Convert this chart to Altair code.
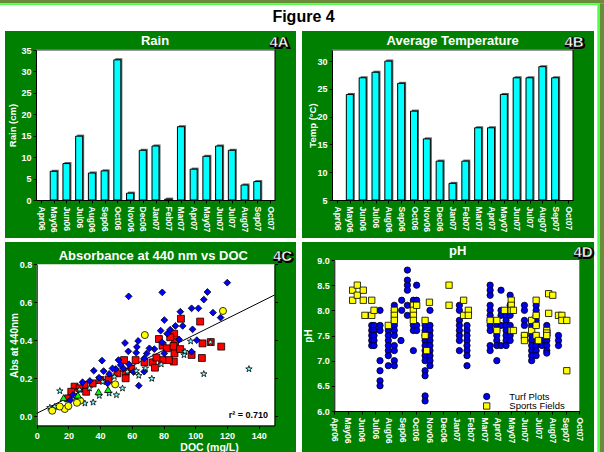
import json
import altair as alt
import pandas as pd

FONT = "Liberation Sans"
PANEL = "#008000"
CYAN = "#00ffff"
OLIVE = "#6b8a3a"
LIME = "#4cff4c"
W, H = 604, 452

# ---- monthly series (x index 0 = Apr06) ----
MONTHS = ["Apr06", "May06", "Jun06", "Jul06", "Aug06", "Sep06", "Oct06", "Nov06",
          "Dec06", "Jan07", "Feb07", "Mar07", "Apr07", "May07", "Jun07", "Jul07",
          "Aug07", "Sep07", "Oct07"]
BAR_MONTH = list(range(1, 18))  # May06 .. Sep07
RAIN_CM = [6.7, 8.5, 14.9, 6.3, 6.8, 32.7, 1.6, 11.6, 12.6, 0.2, 17.1, 7.2,
           10.2, 12.6, 11.6, 3.5, 4.3]
TEMP_C = [24, 27, 28, 30, 26, 21, 16, 12, 8, 12, 18, 18, 24, 27, 27, 29, 27]

# ---- absorbance vs DOC ----
SITES = ["Soccer", "Softball", "Zoysia", "St Aug", "Bermuda"]
SITE_FILL = ["#ffff00", "#00ff00", "#ff0000", "#0000ff", "#80ffff"]
STAR = ("M0,-1L0.235,-0.324L0.951,-0.309L0.38,0.124L0.588,0.809L0,0.4"
        "L-0.588,0.809L-0.38,0.124L-0.951,-0.309L-0.235,-0.324Z")
SITE_SHAPE = ["circle", "triangle-up", "square", "diamond", STAR]
SITE_SIZE = [50, 45, 45, 75, 60]

ZOYSIA_DOC = [91.0, 103.1, 86.7, 87.3, 77.1, 79.4, 84.2, 104.6, 109.8, 116.4,
              104.2, 97.7, 86.9, 86.5, 83.4, 79.2, 73.2, 75.5, 68.0, 62.4,
              55.1, 59.7, 74.6, 56.1, 56.1, 50.9, 45.3, 40.1, 35.3, 30.1,
              23.9, 27.0, 21.8, 19.8, 31.2, 82.1, 86.3, 90.5]
ZOYSIA_ABS = [0.513, 0.498, 0.434, 0.392, 0.406, 0.371, 0.415, 0.383, 0.39, 0.366,
              0.306, 0.322, 0.33, 0.287, 0.295, 0.295, 0.283, 0.308, 0.283, 0.295,
              0.295, 0.248, 0.255, 0.234, 0.199, 0.225, 0.193, 0.19, 0.172, 0.164,
              0.155, 0.146, 0.128, 0.093, 0.128, 0.357, 0.369, 0.353]
STAUG_DOC = [120.2, 107.7, 105.4, 102.0, 97.7, 111.2, 116.0, 90.6, 92.1, 79.2,
             58.0, 80.5, 98.3, 84.2, 87.5, 78.2, 82.3, 101.0, 97.7, 89.8,
             79.0, 74.2, 69.4, 55.7, 64.0, 57.8, 62.8, 63.2, 67.8, 71.1,
             80.5, 41.2, 51.6, 58.2, 36.0, 42.2, 45.7, 49.9, 54.7, 61.1,
             64.4, 67.8, 39.3, 44.7, 33.5, 28.9, 47.8, 53.0, 21.2, 22.9]
STAUG_ABS = [0.703, 0.654, 0.614, 0.568, 0.568, 0.545, 0.519, 0.55, 0.475, 0.652,
             0.631, 0.506, 0.457, 0.455, 0.475, 0.45, 0.434, 0.40, 0.339, 0.404,
             0.389, 0.353, 0.33, 0.385, 0.396, 0.341, 0.334, 0.364, 0.304, 0.357,
             0.33, 0.292, 0.295, 0.273, 0.239, 0.237, 0.222, 0.248, 0.251, 0.232,
             0.16, 0.234, 0.202, 0.172, 0.185, 0.178, 0.251, 0.269, 0.084, 0.111]
BERM_DOC = [133.9, 105.4, 72.6, 97.1, 109.6, 92.9, 93.5, 78.6, 64.4, 62.8,
            50.3, 45.7, 54.1, 35.6, 30.4, 39.5, 24.9, 19.8, 11.4, 8.3,
            14.6, 33.3, 41.6, 57.2, 68.6, 49.0, 27.0]
BERM_ABS = [0.248, 0.222, 0.197, 0.394, 0.389, 0.322, 0.34, 0.273, 0.213, 0.238,
            0.111, 0.12, 0.146, 0.072, 0.067, 0.107, 0.102, 0.049, 0.049, 0.044,
            0.132, 0.146, 0.18, 0.234, 0.252, 0.207, 0.139]
SOCCER_DOC = [117.5, 68.2, 9.8, 17.7, 27.4, 25.4, 20.0, 49.5, 14.5]
SOCCER_ABS = [0.554, 0.427, 0.028, 0.037, 0.081, 0.07, 0.053, 0.167, 0.05]
SOFT_DOC = [17.0, 39.0, 26.0, 45.0]
SOFT_ABS = [0.097, 0.128, 0.11, 0.14]
FIT_DOC = [0, 150]
FIT_ABS = [0.014, 0.638]
R2_TEXT = "r\u00b2 = 0.710"

# ---- pH by sampling date (fractional month index, readings) ----
PH_KINDS = ["Turf Plots", "Sports Fields"]
PH_FILL = ["#0000ee", "#ffff00"]
PH_SHAPE = ["circle", "square"]
TURF = [
    (2.75, [7.7, 7.6, 7.5, 7.4, 7.3]),
    (2.92, [7.7, 7.6, 7.5, 7.4, 7.3]),
    (3.36, [8.0, 7.7, 7.6, 7.0, 6.8, 6.6, 6.5]),
    (3.97, [7.6, 7.5, 7.4, 7.3, 7.2, 7.1, 6.9]),
    (4.41, [8.1, 8.0, 7.9, 7.8, 7.7, 7.6, 7.5, 7.3, 7.2, 7.0, 6.9]),
    (4.90, [7.4]),
    (4.95, [8.2, 8.0]),
    (5.37, [8.8, 8.6, 8.5, 8.4, 8.1, 7.9]),
    (5.81, [8.2, 8.1, 7.7, 7.6, 7.2]),
    (6.05, [8.5, 8.2, 7.7, 7.6]),
    (6.67, [7.7, 7.6, 7.5, 7.4, 7.3, 7.2, 7.1, 7.0, 6.8, 6.7, 6.3, 6.2]),
    (7.03, [8.0, 7.7, 7.6, 7.5, 7.4, 7.3, 7.2, 7.1, 7.0, 6.9]),
    (9.19, [8.1, 8.0, 7.8, 7.7, 7.6, 7.5, 7.4, 7.2]),
    (9.75, [7.7, 7.6, 7.5, 7.4, 7.3, 7.2, 7.1, 6.9]),
    (11.45, [8.5, 8.4, 8.3, 8.1, 8.0, 7.9, 7.8, 7.7, 7.6, 7.3, 7.2]),
    (11.94, [7.7, 7.6, 7.5, 7.4, 7.3, 7.0]),
    (12.25, [8.4, 8.0, 7.9, 7.7, 7.3]),
    (12.62, [7.9, 7.8, 7.7, 7.6, 7.5, 7.4, 7.3]),
    (12.92, [8.3, 8.1, 7.9, 7.7, 7.5, 7.4]),
    (13.97, [8.1, 8.0, 7.8, 7.7, 7.5]),
    (14.50, [7.8, 7.7, 7.5, 7.4, 7.3, 7.2, 7.1, 7.0]),
    (14.83, [8.1, 8.0, 7.9, 7.8, 7.7, 7.3, 7.2, 7.1]),
    (15.25, [7.4, 7.3]),
    (15.61, [7.7, 7.6, 7.5, 7.4, 7.3, 7.2, 7.15]),
    (16.47, [7.5, 7.4, 7.3]),
]
SPORTS = [
    (1.35, [8.4, 8.2]), (1.69, [8.5, 8.3]), (2.13, [8.4, 8.2]), (2.25, [7.9]),
    (2.75, [7.9, 8.2]), (2.92, [8.0]), (3.97, [7.7]), (4.41, [8.0, 7.9, 7.8]),
    (5.81, [8.1, 8.0, 7.9, 7.8]), (6.05, [8.1]), (6.67, [7.8, 7.5]), (6.79, [7.2]),
    (6.99, [8.16]), (8.43, [8.5, 8.1]), (9.50, [8.2, 7.9]), (9.85, [8.0, 7.9]),
    (11.45, [7.8]), (11.94, [7.8, 7.6]), (12.50, [8.0]), (13.00, [8.2, 8.1, 8.0, 7.6]),
    (13.16, [8.0, 7.6]), (13.97, [7.5, 7.4]), (14.50, [7.8, 7.6]),
    (14.83, [8.2, 7.9, 7.7, 7.5]), (15.00, [7.4]), (15.61, [7.6, 7.55, 7.5]),
    (15.75, [8.33, 7.94]), (16.05, [8.3]), (16.47, [7.9]), (16.72, [7.9, 7.8]),
    (17.08, [7.8, 6.8]),
]

MONTH_EXPR = json.dumps(MONTHS) + "[datum.value]"
ONE = alt.Data(values=[{"k": 0}])

# Plot rectangles of the four panels on the shared canvas: (left, top, right, bottom)
A_BOX = (36, 50, 275, 200)
B_BOX = (332, 50, 573, 200)
C_BOX = (36.7, 264.3, 274.5, 425.5)
D_BOX = (334.3, 260, 579.3, 411)


def box(x, x2, y, y2, color):
    return alt.Chart(ONE).mark_rect(color=color).encode(
        x=alt.value(x), x2=alt.value(x2), y=alt.value(y), y2=alt.value(y2))


def hline(x, x2, y, color, width=1):
    return alt.Chart(ONE).mark_rule(color=color, strokeWidth=width).encode(
        x=alt.value(x), x2=alt.value(x2), y=alt.value(y))


def vline(x, y, y2, color, width=1):
    return alt.Chart(ONE).mark_rule(color=color, strokeWidth=width).encode(
        x=alt.value(x), y=alt.value(y), y2=alt.value(y2))


def label(text, x, y, size, color="white", weight="bold", align="center",
          baseline="middle", **kw):
    return alt.Chart(ONE).mark_text(
        text=text, font=FONT, fontSize=size, fontWeight=weight, color=color,
        align=align, baseline=baseline, **kw).encode(x=alt.value(x), y=alt.value(y))


def marker(x, y, shape, fill, size):
    return alt.Chart(ONE).mark_point(shape=shape, fill=fill, stroke="black", strokeWidth=0.8,
                                     size=size, opacity=1).encode(
        x=alt.value(x), y=alt.value(y))


def tag(text, x, y):
    """Panel tag: white lettering with a dark drop outline."""
    return [label(text, x + 1.2, y + 1.2, 15, color="black", stroke="black", strokeWidth=2),
            label(text, x, y, 15, color="white", stroke="black", strokeWidth=0.4)]


def month_axis(bottom):
    return alt.Axis(orient="bottom", offset=bottom - H, values=list(range(len(MONTHS))),
                    labelExpr=MONTH_EXPR, labelAngle=90, labelAlign="left",
                    labelBaseline="middle", labelFontSize=8.5, labelPadding=3,
                    title=None, zindex=1)


def left_axis(left, values, title, title_x, title_y, fmt=None, size=9.5):
    kw = dict(orient="left", offset=-left, values=values, title=title,
              titleX=title_x - left, titleY=title_y, titleAngle=-90,
              titleAlign="center", titleBaseline="middle", titleFontSize=size,
              labelPadding=2, zindex=1)
    if fmt:
        kw["format"] = fmt
    return alt.Axis(**kw)


def bar_panel(values, field, plot, ydomain, yaxis):
    left, top, right, bottom = plot
    df = pd.DataFrame({"month": BAR_MONTH, field: values})
    xscale = alt.Scale(domain=[0, 18], range=[left, right], nice=False, zero=False)
    yscale = alt.Scale(domain=ydomain, range=[bottom, top], nice=False, zero=False)
    shadow = alt.Chart(df).mark_bar(size=7, color="#5a5a5a", xOffset=1.5, yOffset=-1.5).encode(
        x=alt.X("month:Q", scale=xscale, axis=None),
        y=alt.Y(f"{field}:Q", scale=yscale, axis=None),
        y2=alt.datum(ydomain[0]))
    bars = alt.Chart(df).mark_bar(size=7, fill=CYAN, stroke="black", strokeWidth=1).encode(
        x=alt.X("month:Q", scale=xscale, axis=month_axis(bottom)),
        y=alt.Y(f"{field}:Q", scale=yscale, axis=yaxis),
        y2=alt.datum(ydomain[0]))
    return [shadow, bars,
            hline(left, right, top, "#777777", 1.5),
            vline(right, top, bottom, "black", 1)]


# ---------------- panel backgrounds ----------------
frame = [
    box(5, 296, 31, 238, PANEL),
    box(302, 594, 31, 238, PANEL),
    box(5, 296, 242, 455, PANEL),
    box(302, 594, 242, 455, PANEL),
    label("Figure 4", 303.5, 21.7, 16, color="black", baseline="alphabetic"),
]
for l, t, r, b in (A_BOX, B_BOX, C_BOX, D_BOX):
    frame.append(box(l, r, t, b, "white"))

# page border: olive band along the top and right edges with a lime inner line
border = [
    hline(0, W, 1.65, OLIVE, 3.3),
    hline(0, 600, 4.15, LIME, 1.7),
    vline(598.65, 3.3, H, LIME, 2.7),
    vline(602, 3.3, H, OLIVE, 4),
]

# ---------------- 4A: rain ----------------
panel_a = bar_panel(RAIN_CM, "rain", A_BOX, [0, 35],
                    left_axis(A_BOX[0], list(range(0, 36, 5)), "Rain (cm)", 12, 125))
panel_a += [label("Rain", 155, 41, 13), *tag("4A", 279, 42)]

# ---------------- 4B: temperature ----------------
panel_b = bar_panel(TEMP_C, "temp", B_BOX, [5, 32],
                    left_axis(B_BOX[0], list(range(5, 31, 5)), "Temp (\u00b0C)", 312, 125))
panel_b += [label("Average Temperature", 452.7, 41, 13), *tag("4B", 574, 41.7)]

# ---------------- 4C: absorbance vs DOC ----------------
scatter = pd.concat([
    pd.DataFrame({"doc": ZOYSIA_DOC, "abs": ZOYSIA_ABS, "site": "Zoysia"}),
    pd.DataFrame({"doc": STAUG_DOC, "abs": STAUG_ABS, "site": "St Aug"}),
    pd.DataFrame({"doc": BERM_DOC, "abs": BERM_ABS, "site": "Bermuda"}),
    pd.DataFrame({"doc": SOCCER_DOC, "abs": SOCCER_ABS, "site": "Soccer"}),
    pd.DataFrame({"doc": SOFT_DOC, "abs": SOFT_ABS, "site": "Softball"}),
], ignore_index=True)
fit = pd.DataFrame({"doc": FIT_DOC, "abs": FIT_ABS})
cl, ct, cr, cb = C_BOX
c_xscale = alt.Scale(domain=[0, 150], range=[cl, cr], nice=False)
c_yscale = alt.Scale(domain=[-0.05, 0.8], range=[cb, ct], nice=False, zero=False)
c_x_axis = alt.Axis(orient="bottom", offset=cb - H, values=list(range(0, 141, 20)),
                    title="DOC (mg/L)", titleFontSize=10.5, titleX=209, titleY=447 - cb,
                    titleBaseline="middle", labelPadding=3, zindex=1)
c_legend = alt.Legend(title=None, orient="none", legendX=50, legendY=269,
                      labelFont=FONT, labelFontSize=9, labelColor="black",
                      labelFontWeight="normal", symbolStrokeColor="black",
                      symbolStrokeWidth=0.8, symbolSize=50, rowPadding=2,
                      labelOffset=10, padding=0, symbolOpacity=1)
points_c = alt.Chart(scatter).mark_point(opacity=1, stroke="black", strokeWidth=0.8).encode(
    x=alt.X("doc:Q", scale=c_xscale, axis=c_x_axis),
    y=alt.Y("abs:Q", scale=c_yscale,
            axis=left_axis(cl, [0, 0.2, 0.4, 0.6, 0.8], "Abs at 440nm", 14, 345, ".1f", 10)),
    fill=alt.Fill("site:N", scale=alt.Scale(domain=SITES, range=SITE_FILL), legend=c_legend),
    shape=alt.Shape("site:N", scale=alt.Scale(domain=SITES, range=SITE_SHAPE), legend=c_legend),
    size=alt.Size("site:N", scale=alt.Scale(domain=SITES, range=SITE_SIZE), legend=None),
)
fit_c = alt.Chart(fit).mark_line(color="black", strokeWidth=1).encode(
    x=alt.X("doc:Q", scale=c_xscale, axis=None),
    y=alt.Y("abs:Q", scale=c_yscale,
            axis=alt.Axis(orient="right", offset=cr - W, values=[0, 0.2, 0.4, 0.6, 0.8],
                          labels=False, title=None, zindex=1)),
)
panel_c = [fit_c, points_c,
           label(R2_TEXT, 268, 415, 9, color="black", align="right"),
           label("Absorbance at 440 nm vs DOC", 153.3, 255.7, 13),
           *tag("4C", 282.5, 255.5)]

# ---------------- 4D: pH ----------------
ph_rows = []
for kind, clusters in (("Turf Plots", TURF), ("Sports Fields", SPORTS)):
    for m, vals in clusters:
        for v in vals:
            ph_rows.append({"month": m, "ph": v, "kind": kind})
ph = pd.DataFrame(ph_rows)
dl, dt, dr, db = D_BOX
points_d = alt.Chart(ph).mark_point(opacity=1, stroke="black", strokeWidth=0.8, size=40).encode(
    x=alt.X("month:Q", scale=alt.Scale(domain=[0, 18], range=[dl, dr], nice=False, zero=False),
            axis=month_axis(db)),
    y=alt.Y("ph:Q", scale=alt.Scale(domain=[6, 9], range=[db, dt], nice=False, zero=False),
            axis=left_axis(dl, [6.0, 6.5, 7.0, 7.5, 8.0, 8.5, 9.0], "pH", 308, 335.5, ".1f", 10)),
    fill=alt.Fill("kind:N", scale=alt.Scale(domain=PH_KINDS, range=PH_FILL), legend=None),
    shape=alt.Shape("kind:N", scale=alt.Scale(domain=PH_KINDS, range=PH_SHAPE), legend=None),
)
# key for the pH panel: two tightly stacked entries
ph_key = [
    marker(486.7, 396.5, PH_SHAPE[0], PH_FILL[0], 40),
    marker(486.7, 406, PH_SHAPE[1], PH_FILL[1], 40),
    label(PH_KINDS[0], 509.3, 396.5, 9.5, color="black", weight="normal", align="left"),
    label(PH_KINDS[1], 509.3, 406.3, 9.5, color="black", weight="normal", align="left"),
]
panel_d = [points_d, *ph_key, label("pH", 457.7, 251, 13), *tag("4D", 583, 251.5)]

chart = alt.layer(*frame, *panel_a, *panel_b, *panel_c, *panel_d, *border).resolve_scale(
    x="independent", y="independent", fill="independent", shape="independent",
    size="independent",
).resolve_axis(x="independent", y="independent").resolve_legend(
    fill="independent", shape="independent", size="independent",
).properties(
    width=W, height=H, background="white", padding=0,
    autosize=alt.AutoSizeParams(type="none"),
).configure_view(strokeWidth=0).configure_axis(
    labelFont=FONT, labelColor="white", labelFontWeight="bold", labelFontSize=9,
    titleFont=FONT, titleColor="white", titleFontWeight="bold",
    tickColor="black", domainColor="black", tickSize=3, grid=False,
    labelFlush=False, labelOverlap=False,
)

chart.save("out.html", embed_options={"renderer": "svg", "actions": False})
